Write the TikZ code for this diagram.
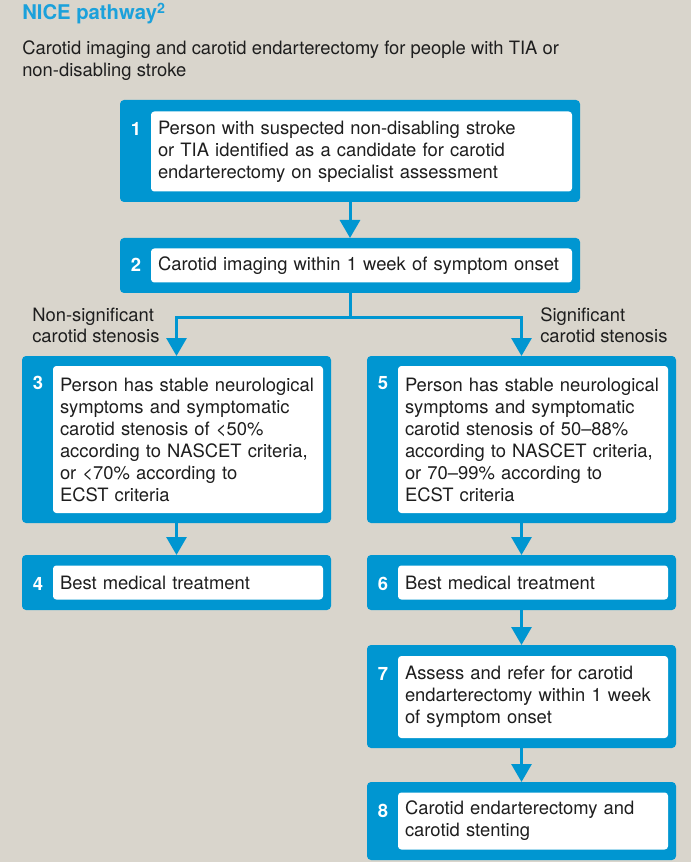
\documentclass[tikz,border=0pt]{standalone}
\usepackage{fontspec}
\setmainfont{TeX Gyre Heros}
\usetikzlibrary{arrows.meta,positioning}
\definecolor{niceblue}{RGB}{0,150,209}
\definecolor{titleblue}{RGB}{27,161,219}
\definecolor{paper}{RGB}{217,213,204}
\definecolor{ink}{RGB}{30,30,30}

\begin{document}
\begin{tikzpicture}[x=0.75pt,y=-0.75pt,
        every node/.style={font=\fontsize{13.8}{16.5}\selectfont,text=ink},
        outerbox/.style={rectangle,rounded corners=3pt,fill=niceblue,inner sep=0pt,outer sep=0pt},
        wide/.style={minimum width=345pt},
        narrow/.style={minimum width=231.75pt},
        innerbox/.style={rectangle,rounded corners=2.5pt,fill=white,inner xsep=5.25pt,inner ysep=0pt,outer sep=0pt,align=left},
        num/.style={anchor=base,text=white,font=\fontsize{13.8}{16.5}\selectfont\bfseries},
        label/.style={anchor=base west,align=left,inner sep=0pt},
        flow/.style={draw=niceblue,line width=2.25pt,-{Triangle[width=15pt,length=13.5pt]}}
    ]
    \fill[paper] (0,0) rectangle (691,862);
    \useasboundingbox (0,0) rectangle (691,862);

    \node[label,text=titleblue,font=\fontsize{15.2}{18}\selectfont\bfseries] (title) at (22,20) {NICE pathway\textsuperscript{2}};
    \node[label] (intro) at (22,77) {Carotid imaging and carotid endarterectomy for people with TIA or\\non-disabling stroke};

    \node[outerbox,wide,minimum height=76.5pt] (b1) at (350,151) {};
    \node[innerbox,text width=305.25pt,minimum height=60pt] (t1) at (361.5,151.5) {Person with suspected non-disabling stroke\\or TIA identified as a candidate for carotid\\endarterectomy on specialist assessment};
    \node[num] (n1) at (136,136) {1};

    \node[outerbox,wide,minimum height=41.25pt] (b2) at (350,265.5) {};
    \node[innerbox,text width=305.25pt,minimum height=25.5pt] (t2) at (361.5,265.5) {Carotid imaging within 1 week of symptom onset};
    \node[num] (n2) at (136,272) {2};

    \node[outerbox,narrow,minimum height=125.25pt] (b3) at (176.5,439.5) {};
    \node[innerbox,text width=192pt,minimum height=110.25pt] (t3) at (188,439.5) {Person has stable neurological\\symptoms and symptomatic\\carotid stenosis of <50\%\\according to NASCET criteria,\\or <70\% according to\\ECST criteria};
    \node[num] (n3) at (38,389) {3};

    \node[outerbox,narrow,minimum height=41.25pt] (b4) at (176.5,582.5) {};
    \node[innerbox,text width=192pt,minimum height=25.5pt] (t4) at (188,582.5) {Best medical treatment};
    \node[num] (n4) at (38,590) {4};

    \node[outerbox,narrow,minimum height=125.25pt] (b5) at (521.5,439.5) {};
    \node[innerbox,text width=192pt,minimum height=110.25pt] (t5) at (533,439.5) {Person has stable neurological\\symptoms and symptomatic\\carotid stenosis of 50--88\%\\according to NASCET criteria,\\or 70--99\% according to\\ECST criteria};
    \node[num] (n5) at (383,389) {5};

    \node[outerbox,narrow,minimum height=41.25pt] (b6) at (521.5,582.5) {};
    \node[innerbox,text width=192pt,minimum height=25.5pt] (t6) at (533,582.5) {Best medical treatment};
    \node[num] (n6) at (383,590) {6};

    \node[outerbox,narrow,minimum height=77.25pt] (b7) at (521.5,696.5) {};
    \node[innerbox,text width=192pt,minimum height=61.5pt] (t7) at (533,697) {Assess and refer for carotid\\endarterectomy within 1 week\\of symptom onset};
    \node[num] (n7) at (383,680) {7};

    \node[outerbox,narrow,minimum height=58.5pt] (b8) at (521.5,821) {};
    \node[innerbox,text width=192pt,minimum height=42.75pt] (t8) at (533,821) {Carotid endarterectomy and\\carotid stenting};
    \node[num] (n8) at (383,817) {8};

    \node[label] (nonsig) at (32,343) {Non-significant\\carotid stenosis};
    \node[label] (sig) at (540,343) {Significant\\carotid stenosis};

    \coordinate (split) at (350,318);

    \draw[flow] (b1) -- (b2);
    \draw[flow] (b2.south) -- (split) -| (b3.north);
    \draw[flow] (b2.south) -- (split) -| (b5.north);
    \draw[flow] (b3) -- (b4);
    \draw[flow] (b5) -- (b6);
    \draw[flow] (b6) -- (b7);
    \draw[flow] (b7) -- (b8);
\end{tikzpicture}
\end{document}
